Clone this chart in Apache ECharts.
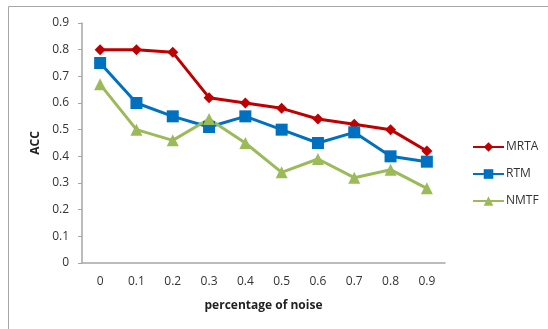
<!DOCTYPE html>
<html>
<head>
<meta charset="utf-8">
<script src="https://cdn.jsdelivr.net/npm/echarts@6/dist/echarts.min.js"></script>
<style>
  html, body { margin: 0; padding: 0; background: #fff; }
  #chart { width: 548px; height: 329px; }
</style>
</head>
<body>
<div id="chart"></div>
<script>
// Noise levels on the x axis
const noiseLevels = ['0', '0.1', '0.2', '0.3', '0.4', '0.5', '0.6', '0.7', '0.8', '0.9'];
// Accuracy of each method at each noise level
const mrta = [0.80, 0.80, 0.79, 0.62, 0.60, 0.58, 0.54, 0.52, 0.50, 0.42];
const rtm  = [0.75, 0.60, 0.55, 0.51, 0.55, 0.50, 0.45, 0.49, 0.40, 0.38];
const nmtf = [0.67, 0.50, 0.46, 0.54, 0.45, 0.34, 0.39, 0.32, 0.35, 0.28];

const font = '"Open Sans", "Noto Sans", sans-serif';
const chart = echarts.init(document.getElementById('chart'), null, { renderer: 'canvas' });

function line(name, data, color, symbol, size) {
  return {
    name, type: 'line', data,
    symbol, symbolSize: size,
    lineStyle: { color, width: 3 },
    itemStyle: { color },
    animation: false
  };
}

chart.setOption({
  backgroundColor: '#fff',
  textStyle: { fontFamily: font },
  graphic: [{
    type: 'rect',
    shape: { x: 8.5, y: 6.5, width: 560, height: 340 },
    style: { fill: 'none', stroke: '#a6a6a6', lineWidth: 1 },
    silent: true
  }],
  grid: { left: 82, right: 103, top: 23, bottom: 66 },
  legend: {
    orient: 'vertical',
    left: 467, top: 136,
    itemWidth: 31, itemHeight: 12, itemGap: 15,
    textStyle: { fontSize: 12, color: '#333', fontFamily: font, padding: [0, 0, 0, -3] },
    data: ['MRTA', 'RTM', 'NMTF']
  },
  xAxis: {
    type: 'category',
    data: noiseLevels,
    boundaryGap: true,
    name: 'percentage of noise',
    nameLocation: 'middle',
    nameGap: 37,
    nameTextStyle: { fontSize: 12, fontWeight: 'bold', color: '#222', fontFamily: font },
    axisLine: { lineStyle: { color: '#a6a6a6', width: 1.5 } },
    axisTick: { show: false },
    axisLabel: { fontSize: 12, color: '#333', margin: 13 }
  },
  yAxis: {
    type: 'value',
    min: 0, max: 0.9, interval: 0.1,
    name: 'ACC',
    nameLocation: 'middle',
    nameGap: 40,
    nameRotate: 90,
    nameTextStyle: { fontSize: 12, fontWeight: 'bold', color: '#222', fontFamily: font },
    axisLine: { show: true, lineStyle: { color: '#a6a6a6', width: 1.5 } },
    axisTick: { show: true, length: 4, lineStyle: { color: '#a6a6a6' } },
    splitLine: { show: false },
    axisLabel: {
      fontSize: 12, color: '#333', margin: 13,
      formatter: v => (Math.round(v * 10) / 10).toString()
    }
  },
  series: [
    line('MRTA', mrta, '#C00000', 'diamond', 11),
    line('RTM', rtm, '#0070C0', 'rect', 12),
    line('NMTF', nmtf, '#9BBB59', 'triangle', 12)
  ]
});
</script>
</body>
</html>
